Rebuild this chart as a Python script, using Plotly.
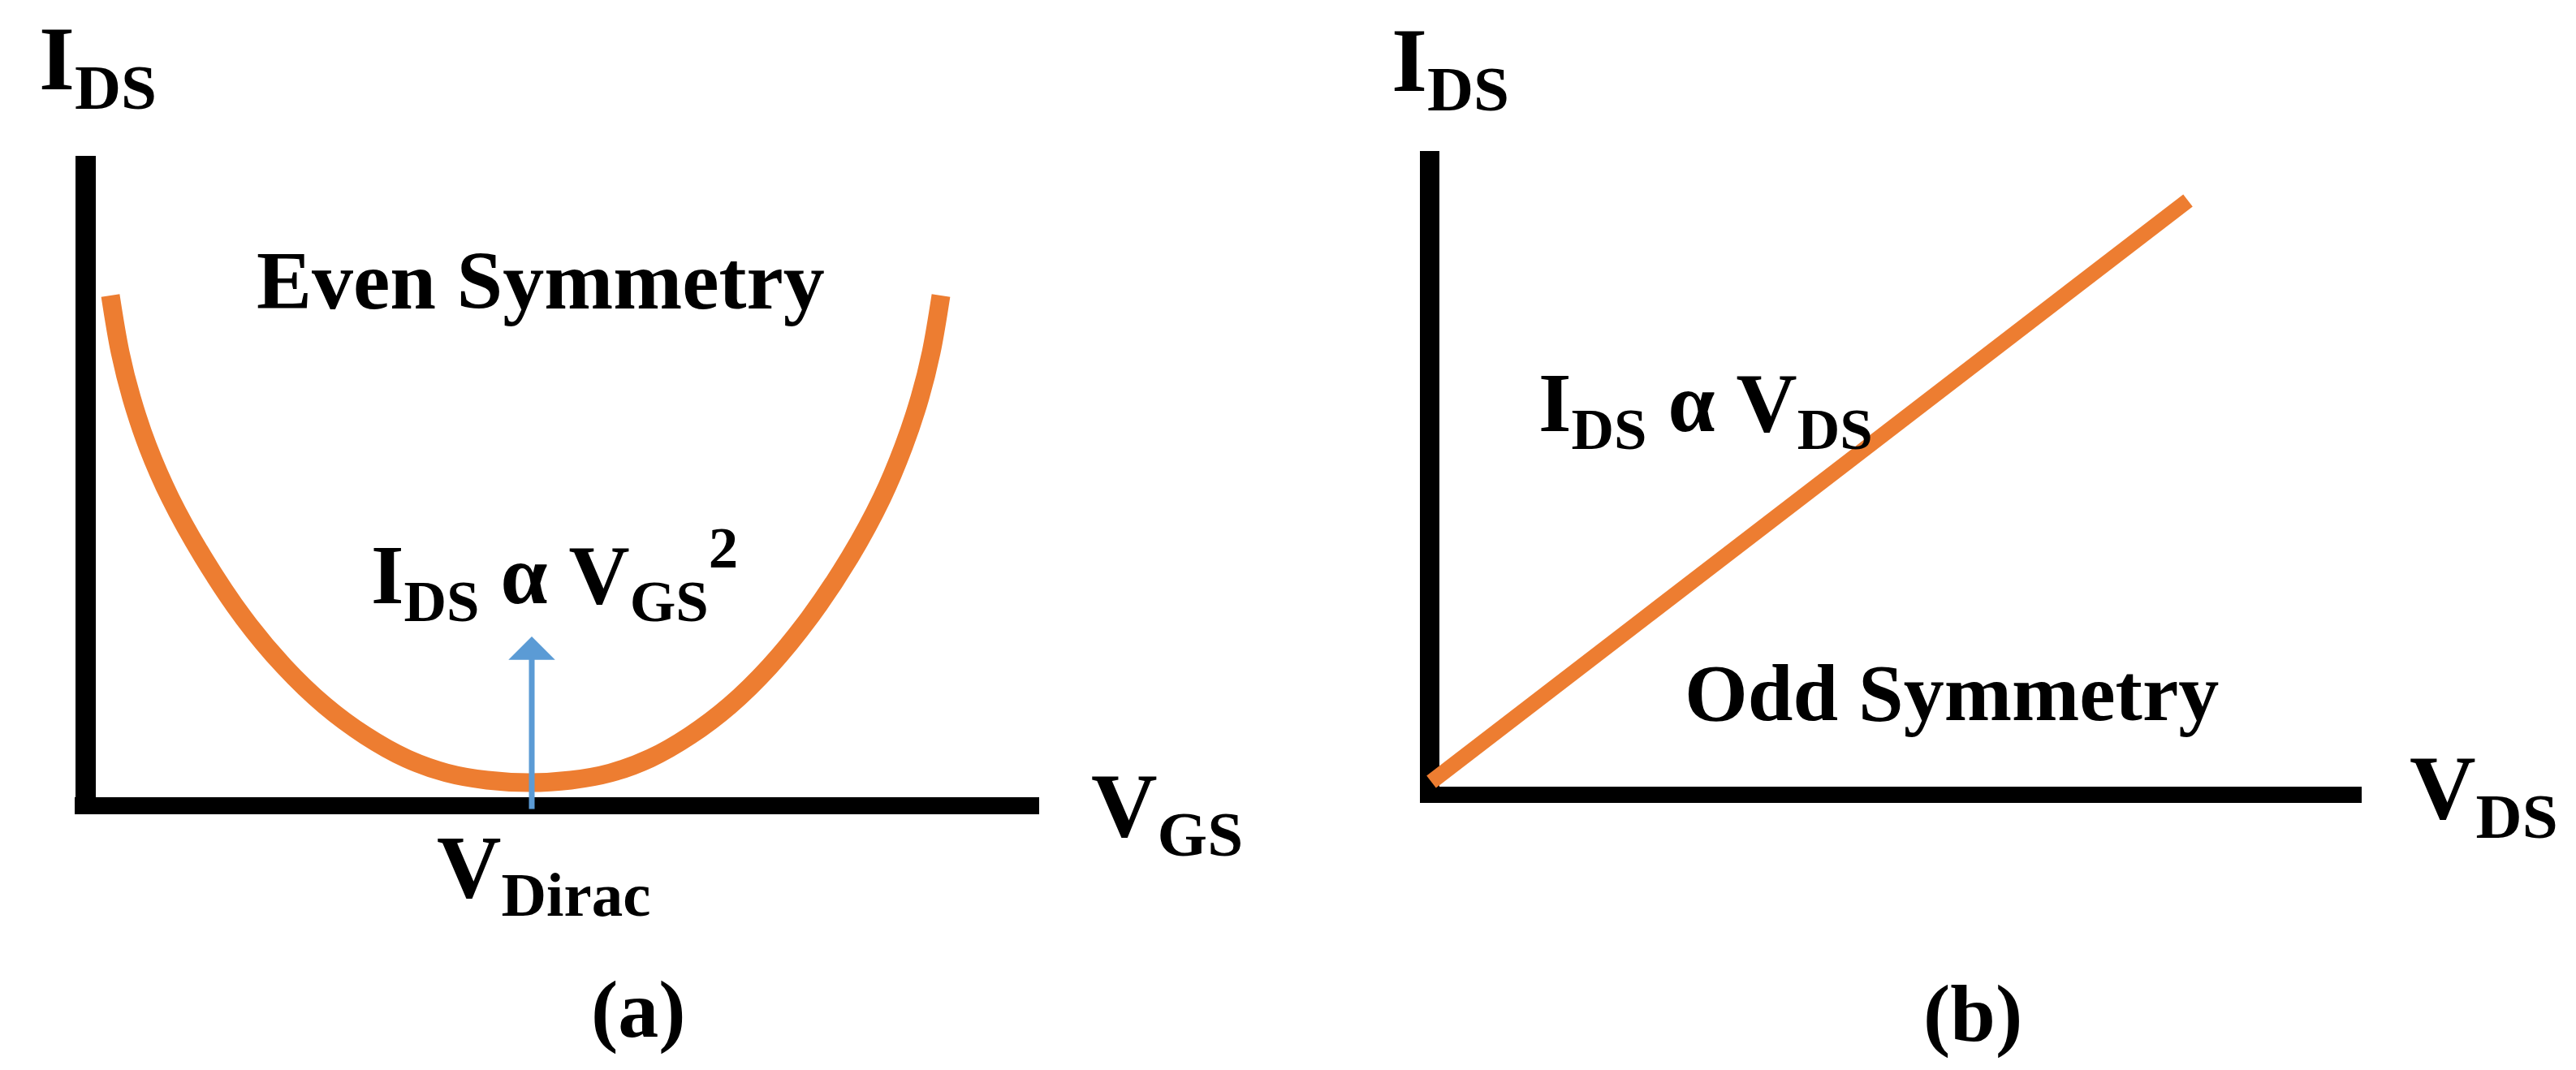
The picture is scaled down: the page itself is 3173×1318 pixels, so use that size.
import plotly.graph_objects as go

W, H = 3173, 1318
PAGE_MARGIN = 8  # default <body> margin of the html page

# (a) I_DS vs V_GS (arbitrary units)
vgs = [0.31, 0.43, 0.57, 0.77, 1.05, 1.45, 1.95, 2.45, 2.95, 3.45, 3.95, 4.45, 4.95, 5.47,
       5.98, 6.47, 6.96, 7.45, 7.94, 8.43, 8.92, 9.42, 9.81, 10.08, 10.28, 10.42, 10.54]
ids_even = [6.28, 5.58, 5.02, 4.42, 3.78, 3.06, 2.31, 1.71, 1.23, 0.86, 0.58, 0.40, 0.31, 0.28,
            0.31, 0.40, 0.58, 0.86, 1.23, 1.71, 2.31, 3.06, 3.78, 4.42, 5.02, 5.58, 6.28]
v_dirac = 5.5

# (b) I_DS vs V_DS
vds = [0.02, 9.34]
ids_odd = [0.16, 7.32]

ORANGE = "#ED7D31"
BLUE = "#5B9BD5"
FONT = "Liberation Serif"


def px(x):
    return (x - PAGE_MARGIN) / W


def py(y):
    return 1 - (y - PAGE_MARGIN) / H


fig = go.Figure()
fig.add_trace(go.Scatter(x=vgs, y=ids_even, mode="lines",
                         line=dict(color=ORANGE, width=23, shape="spline", smoothing=1.0),
                         xaxis="x", yaxis="y", hoverinfo="skip"))
fig.add_trace(go.Scatter(x=vds, y=ids_odd, mode="lines",
                         line=dict(color=ORANGE, width=19),
                         xaxis="x2", yaxis="y2", hoverinfo="skip"))

ax_style = dict(showgrid=False, showticklabels=False, ticks="", showline=False,
                zeroline=True, zerolinecolor="black")

fig.update_layout(
    width=W, height=H,
    margin=dict(l=0, r=0, t=0, b=0),
    paper_bgcolor="white", plot_bgcolor="white",
    showlegend=False,
    xaxis=dict(domain=[px(92), px(1280)], range=[-0.13, 11.75], anchor="y",
               zerolinewidth=25, **ax_style),
    yaxis=dict(domain=[py(1003), py(192)], range=[-0.11, 8.0], anchor="x",
               zerolinewidth=21, **ax_style),
    xaxis2=dict(domain=[px(1749), px(2909)], range=[-0.12, 11.48], anchor="y2",
                zerolinewidth=24, **ax_style),
    yaxis2=dict(domain=[py(989), py(186)], range=[-0.10, 7.93], anchor="x2",
                zerolinewidth=20, **ax_style),
)

# blue arrow marking the Dirac point
fig.add_annotation(x=v_dirac, y=2.08, ax=v_dirac, ay=-0.06, xref="x", yref="y",
                   axref="x", ayref="y", text="", showarrow=True, arrowhead=1,
                   arrowsize=1.37, arrowwidth=7, arrowcolor=BLUE)

labels = [
    # text, x px, y px (middle), size, xanchor
    ("I<sub>DS</sub>", 46, 80, 113, "left"),
    ("Even Symmetry", 666, 345, 102, "center"),
    ("I<sub>DS</sub> \u03b1 V<sub>GS</sub><sup>2</sup>", 455, 707, 104, "left"),
    ("V<sub>GS</sub>", 1342, 1000, 113, "left"),
    ("V<sub>Dirac</sub>", 536, 1076, 110, "left"),
    ("(a)", 786, 1243, 100, "center"),
    ("I<sub>DS</sub>", 1712, 82, 113, "left"),
    ("I<sub>DS</sub> \u03b1 V<sub>DS</sub>", 1893, 503, 104, "left"),
    ("Odd Symmetry", 2404, 854, 100, "center"),
    ("V<sub>DS</sub>", 2966, 978, 113, "left"),
    ("(b)", 2430, 1248, 100, "center"),
]
for text, x, y, size, xa in labels:
    fig.add_annotation(x=px(x), y=py(y), xref="paper", yref="paper", text=text,
                       showarrow=False, xanchor=xa, yanchor="middle",
                       font=dict(family=FONT, size=size, color="black", weight="bold"))

fig.write_html("out.html")
